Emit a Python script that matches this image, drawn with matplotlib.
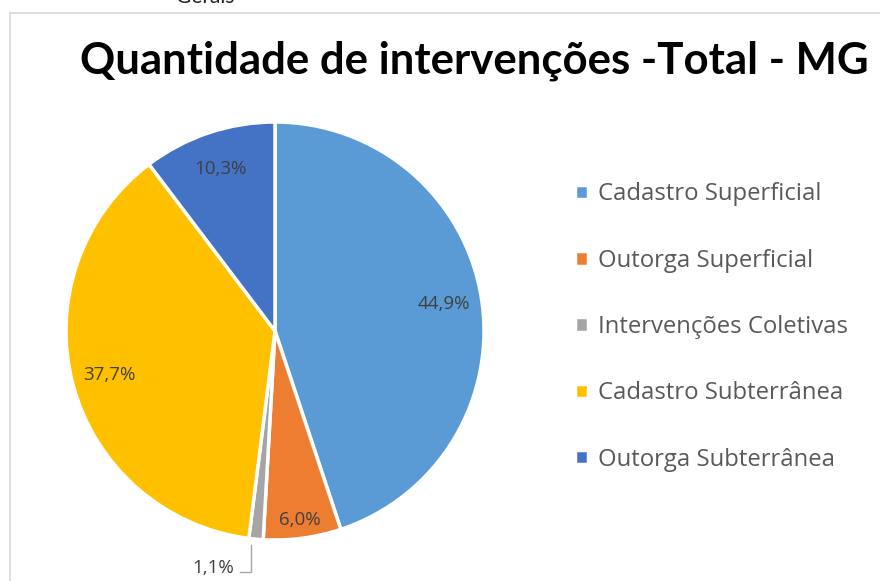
import matplotlib.pyplot as plt
from matplotlib.lines import Line2D

categories = ["Cadastro Superficial", "Outorga Superficial", "Intervenções Coletivas",
              "Cadastro Subterrânea", "Outorga Subterrânea"]
values = [44.9, 6.0, 1.1, 37.7, 10.3]
colors = ["#5B9BD5", "#ED7D31", "#A5A5A5", "#FFC000", "#4472C4"]
title = "Quantidade de intervenções -Total - MG"

W, H = 880, 581
fig = plt.figure(figsize=(W / 100, H / 100), dpi=100)
ax = fig.add_axes([0, 0, 1, 1])
ax.set_xlim(0, W)
ax.set_ylim(0, H)
ax.set_aspect("equal")
ax.axis("off")

# chart frame (cut off at right and bottom)
ax.add_line(Line2D([10, 10], [0, H - 13], color="#D9D9D9", lw=1.2))
ax.add_line(Line2D([10, W], [H - 13, H - 13], color="#D9D9D9", lw=1.2))
ax.text(205, H + 3, "Gerais", ha="center", va="center", fontsize=15,
        family="Lato", color="#222222")

ax.text(80, H - 61, title, ha="left", va="center", fontsize=31.5,
        family="Lato", fontweight="bold", color="black")


def fmt(p):
    return f"{p:.1f}%".replace(".", ",")


cx, cy, r = 275, H - 331, 209
wedges, texts, autotexts = ax.pie(
    values, colors=colors, startangle=90, counterclock=False,
    center=(cx, cy), radius=r, autopct=fmt, pctdistance=0.82,
    wedgeprops=dict(edgecolor="white", linewidth=2.5),
    textprops=dict(fontsize=13.5, color="#404040", family="Open Sans"), frame=True)
ax.axis("off")
ax.set_xlim(0, W)
ax.set_ylim(0, H)

# small adjustments like Excel's best fit
x, y = autotexts[1].get_position()
autotexts[1].set_position((cx + (x - cx) * 0.91 / 0.82, cy + (y - cy) * 0.91 / 0.82))
autotexts[2].set_position((213, H - 568))
ax.add_line(Line2D([251, 251, 240], [H - 545, H - 572, H - 572], color="#A5A5A5", lw=1))

ax.legend(wedges, categories, loc="upper left", bbox_to_anchor=(553 / W, 1 - 161 / H),
          frameon=False, handlelength=0.55, handleheight=0.55, handletextpad=0.45,
          labelspacing=1.77, prop=dict(family="Open Sans", size=17.2), labelcolor="#595959")

fig.savefig("out.png", dpi=100)
